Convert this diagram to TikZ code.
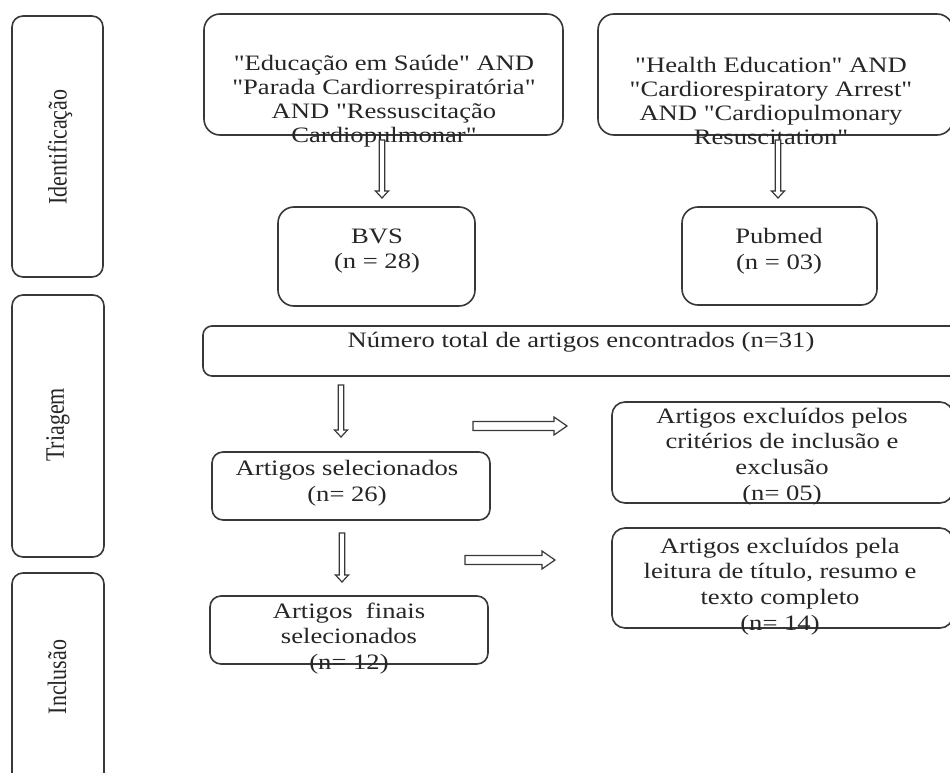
\documentclass[tikz,border=0pt]{standalone}
\usepackage{fontspec}
\setmainfont{Liberation Serif}
\newfontfamily\widefont[FakeStretch=1.21]{Liberation Serif}
\usetikzlibrary{calc}

\definecolor{ink}{HTML}{262626}
\definecolor{edge}{HTML}{383838}

% hollow block arrows (closed outline)
\newcommand\blockdown[2]{%
  \draw[blockarrow] ($(#1)+(-2.8,0)$) -- ($(#2)+(-2.8,-7)$) -- ($(#2)+(-6.5,-7)$)
    -- (#2) -- ($(#2)+(6.5,-7)$) -- ($(#2)+(2.8,-7)$) -- ($(#1)+(2.8,0)$) -- cycle;}
\newcommand\blockright[2]{%
  \draw[blockarrow] ($(#1)+(0,-4.5)$) -- ($(#2)+(-13,-4.5)$) -- ($(#2)+(-13,-9)$)
    -- (#2) -- ($(#2)+(-13,9)$) -- ($(#2)+(-13,4.5)$) -- ($(#1)+(0,4.5)$) -- cycle;}

\begin{document}
\begin{tikzpicture}[x=1pt,y=-1pt,
  box/.style={draw=edge, line width=1.6pt, rounded corners=#1, inner sep=0pt},
  box/.default=12pt,
  txt/.style={font=\widefont\fontsize{22}{24}\selectfont, text=ink, align=center, inner sep=0pt},
  txtwide/.style={txt, font=\widefont\fontsize{22}{25.7}\selectfont},
  sidelabel/.style={font=\fontsize{22}{24}\selectfont, text=ink, inner sep=0pt},
  blockarrow/.style={draw=edge, line width=1.2pt, fill=white, line join=miter}
]
\useasboundingbox[fill=white] (0,0) rectangle (950,773);

% stage boxes on the left
\node[box=11pt, minimum width=91pt, minimum height=261pt] (sideA) at (57.5,146.5) {};
\node[box=11pt, minimum width=92pt, minimum height=262pt] (sideB) at (58,426) {};
\node[box=11pt, minimum width=92pt, minimum height=227pt] (sideC) at (58,686.5) {};
\node[sidelabel] (labA) at (60,147) {\rotatebox{90}{\scalebox{1}[1.21]{Identificação}}};
\node[sidelabel] (labB) at (58,425) {\rotatebox{90}{\scalebox{1}[1.21]{Triagem}}};
\node[sidelabel] (labC) at (57,677) {\rotatebox{90}{\scalebox{1}[1.21]{Inclusão}}};

% search strings
\node[box=16pt, minimum width=359pt, minimum height=121pt] (q1) at (383.5,74.5) {};
\node[box=16pt, minimum width=355pt, minimum height=121pt] (q2) at (775.5,74.5) {};
\node[txt] (q1t) at (384,101) {"Educação em Saúde" AND\\"Parada Cardiorrespiratória"\\AND "Ressuscitação\\Cardiopulmonar"};
\node[txt] (q2t) at (771,101) {"Health Education" AND\\"Cardiorespiratory Arrest"\\AND "Cardiopulmonary\\Resuscitation"};

% databases
\node[box=16pt, minimum width=197pt, minimum height=99pt] (bvs) at (376.5,256.5) {};
\node[box=16pt, minimum width=195pt, minimum height=98pt] (pub) at (779.5,256) {};
\node[txtwide] (bvst) at (377,251) {BVS\\(n = 28)};
\node[txtwide] (pubt) at (779,251) {Pubmed\\(n = 03)};

% total
\node[box=9pt, minimum width=757pt, minimum height=50pt] (tot) at (581.5,351) {};
\node[txt] (tott) at (581,342) {Número total de artigos encontrados (n=31)};

% selection flow
\node[box=11pt, minimum width=278pt, minimum height=68pt] (sel) at (351,486) {};
\node[txtwide] (selt) at (347,483.5) {Artigos selecionados\\(n= 26)};
\node[box=11pt, minimum width=278pt, minimum height=68pt] (fin) at (349,630) {};
\node[txtwide] (fint) at (349,638.5) {Artigos\ \ finais\\selecionados\\(n= 12)};

% exclusions
\node[box=13pt, minimum width=341pt, minimum height=101pt] (ex1) at (782.5,452.5) {};
\node[txtwide] (ex1t) at (782,456.5) {Artigos excluídos pelos\\critérios de inclusão e\\exclusão\\(n= 05)};
\node[box=13pt, minimum width=341pt, minimum height=100pt] (ex2) at (782.5,578) {};
\node[txtwide] (ex2t) at (780,586.5) {Artigos excluídos pela\\leitura de título, resumo e\\texto completo\\(n= 14)};

% arrow end points
\coordinate (a1s) at (382,140);  \coordinate (a1e) at (382,198);
\coordinate (a2s) at (778,140);  \coordinate (a2e) at (778,198);
\coordinate (a3s) at (341,385);  \coordinate (a3e) at (341,437);
\coordinate (a4s) at (473,426);  \coordinate (a4e) at (567,426);
\coordinate (a5s) at (342,533);  \coordinate (a5e) at (342,582);
\coordinate (a6s) at (465,560);  \coordinate (a6e) at (555,560);

\blockdown{a1s}{a1e}
\blockdown{a2s}{a2e}
\blockdown{a3s}{a3e}
\blockright{a4s}{a4e}
\blockdown{a5s}{a5e}
\blockright{a6s}{a6e}
\end{tikzpicture}
\end{document}
